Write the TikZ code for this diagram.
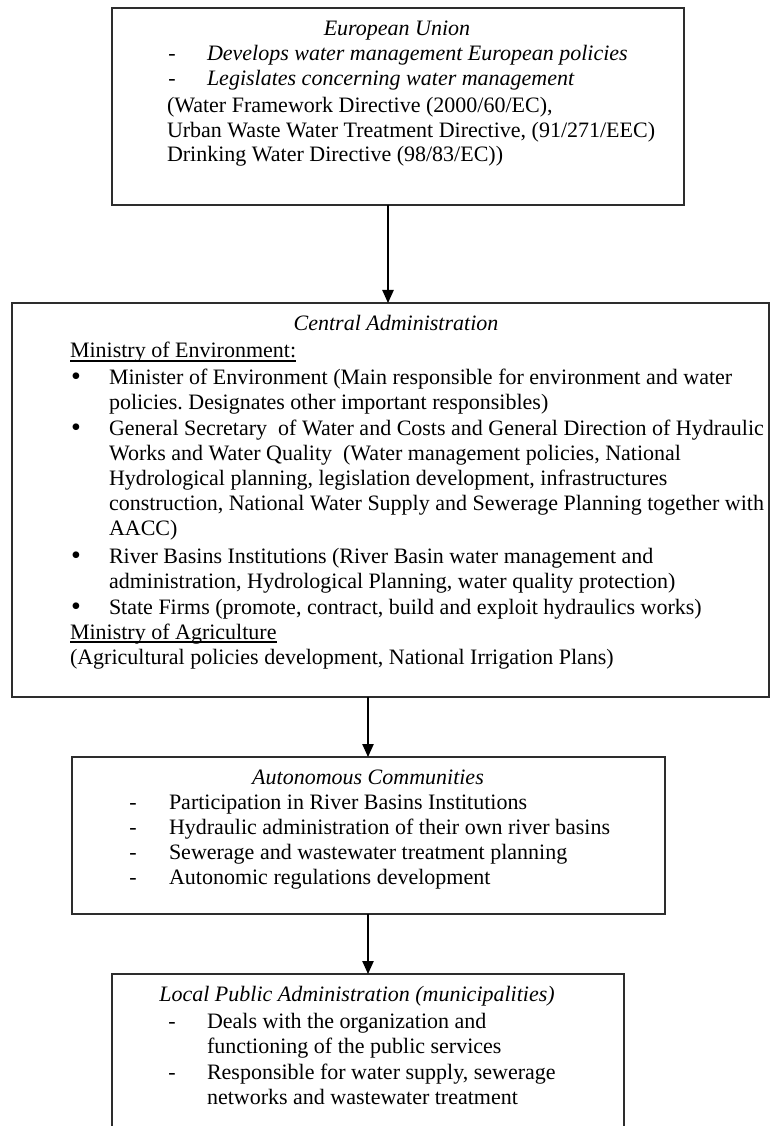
\documentclass[tikz,border=0pt]{standalone}
\usepackage{fontspec}
\setmainfont{Liberation Serif}
\usetikzlibrary{arrows.meta}
\newdimen\PX \PX=0.75pt
\definecolor{boxgray}{RGB}{45,45,45}
\frenchspacing
\begin{document}
\begin{tikzpicture}[x=0.75pt, y=-0.75pt,
  box/.style={draw=boxgray, line width=1.5pt, inner sep=0pt, outer sep=0pt, anchor=north west},
  txt/.style={inner sep=0pt, outer sep=0pt, anchor=base west, font=\fontsize{16.5pt}{19pt}\selectfont},
  itxt/.style={txt, font=\fontsize{16.5pt}{19pt}\selectfont\itshape},
  head/.style={inner sep=0pt, outer sep=0pt, anchor=base, font=\fontsize{16.5pt}{19pt}\selectfont\itshape},
  bmark/.style={inner sep=0pt, outer sep=0pt, anchor=base, font=\fontsize{16.5pt}{19pt}\selectfont},
  bdot/.style={inner sep=0pt, outer sep=0pt, anchor=base, font=\fontsize{21pt}{19pt}\selectfont},
  uline/.style={line width=0.9pt, draw=black},
  arr/.style={-{Triangle[length=9.75pt, width=8.5pt]}, line width=1pt, draw=black}]
\useasboundingbox (0,0) rectangle (771,1126);
\clip (0,0) rectangle (771,1126);

% ---------- boxes ----------
\node[box, minimum width=572\PX, minimum height=197\PX] (b1) at (112,8) {};
\node[box, minimum width=757\PX, minimum height=394\PX] (b2) at (12,303) {};
\node[box, minimum width=593\PX, minimum height=157\PX] (b3) at (72,757) {};
\node[box, minimum width=512\PX, minimum height=200\PX] (b4) at (112,974) {};

% ---------- connectors ----------
\coordinate (c1) at (388,205);
\coordinate (c2) at (368,697);
\coordinate (c3) at (368,914);
\draw[arr] (c1) -- (c1 |- b2.north);
\draw[arr] (c2) -- (c2 |- b3.north);
\draw[arr] (c3) -- (c3 |- b4.north);

% ---------- box 1 ----------
\node[head] (h1) at (397,36) {European Union};
\node[bmark] (d11) at (172,61) {-};
\node[itxt] (t11) at (207,61) {Develops water management European policies};
\node[bmark] (d12) at (172,86) {-};
\node[itxt] (t12) at (207,86) {Legislates concerning water management};
\node[txt] (t13) at (167,113) {(Water Framework Directive (2000/60/EC),};
\node[txt] (t14) at (167,138) {Urban Waste Water Treatment Directive, (91/271/EEC)};
\node[txt] (t15) at (167,162) {Drinking Water Directive (98/83/EC))};

% ---------- box 2 ----------
\node[head] (h2) at (396,331) {Central Administration};
\node[txt] (t20) at (70,358) {Ministry of Environment:};
\draw[uline] ([yshift=-3\PX]t20.base west) -- ([yshift=-3\PX]t20.base east);
\node[bdot] (p21) at (76,385) {\textbullet};
\node[txt] (t21) at (109,384) {Minister of Environment (Main responsible for environment and water};
\node[txt] (t22) at (109,409) {policies. Designates other important responsibles)};
\node[bdot] (p23) at (76,436) {\textbullet};
\node[txt] (t23) at (109,435) {General Secretary\ \ of Water and Costs and General Direction of Hydraulic};
\node[txt] (t24) at (109,460) {Works and Water Quality\ \ (Water management policies, National};
\node[txt] (t25) at (109,485) {Hydrological planning, legislation development, infrastructures};
\node[txt] (t26) at (109,510) {construction, National Water Supply and Sewerage Planning together with};
\node[txt] (t27) at (109,535) {AACC)};
\node[bdot] (p28) at (76,564) {\textbullet};
\node[txt] (t28) at (109,563) {River Basins Institutions (River Basin water management and};
\node[txt] (t29) at (109,588) {administration, Hydrological Planning, water quality protection)};
\node[bdot] (p2a) at (76,615) {\textbullet};
\node[txt] (t2a) at (109,614) {State Firms (promote, contract, build and exploit hydraulics works)};
\node[txt] (t2b) at (70,639) {Ministry of Agriculture};
\draw[uline] ([yshift=-3\PX]t2b.base west) -- ([yshift=-3\PX]t2b.base east);
\node[txt] (t2c) at (70,664) {(Agricultural policies development, National Irrigation Plans)};

% ---------- box 3 ----------
\node[head] (h3) at (368,784) {Autonomous Communities};
\node[bmark] (d31) at (133,809) {-};
\node[txt] (t31) at (169,809) {Participation in River Basins Institutions};
\node[bmark] (d32) at (133,834) {-};
\node[txt] (t32) at (169,834) {Hydraulic administration of their own river basins};
\node[bmark] (d33) at (133,859) {-};
\node[txt] (t33) at (169,859) {Sewerage and wastewater treatment planning};
\node[bmark] (d34) at (133,884) {-};
\node[txt] (t34) at (169,884) {Autonomic regulations development};

% ---------- box 4 ----------
\node[head] (h4) at (357,1001) {Local Public Administration (municipalities)};
\node[bmark] (d41) at (172,1028) {-};
\node[txt] (t41) at (207,1028) {Deals with the organization and};
\node[txt] (t42) at (207,1053) {functioning of the public services};
\node[bmark] (d43) at (172,1079) {-};
\node[txt] (t43) at (207,1079) {Responsible for water supply, sewerage};
\node[txt] (t44) at (207,1104) {networks and wastewater treatment};
\end{tikzpicture}
\end{document}
